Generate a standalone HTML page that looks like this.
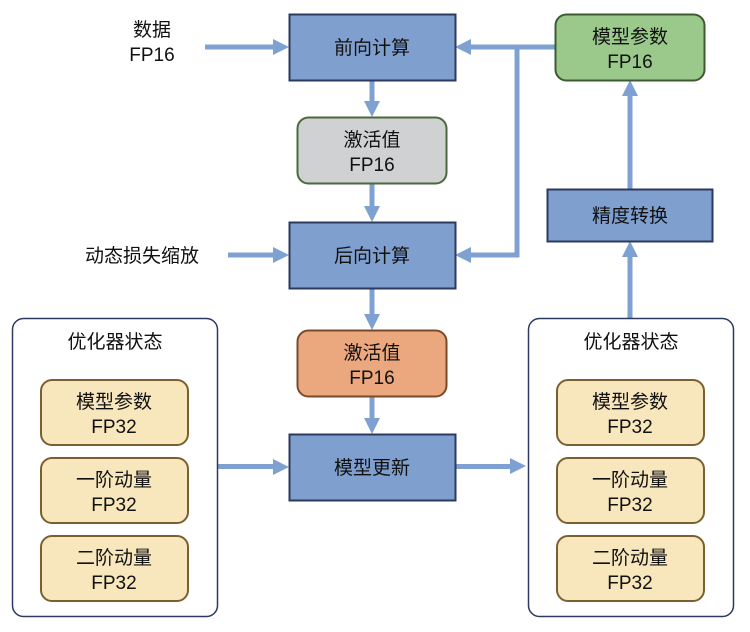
<!DOCTYPE html>
<html><head><meta charset="utf-8"><style>
html,body{margin:0;padding:0;background:#fff;}
svg text{font-family:"Liberation Sans","Noto Sans CJK SC",sans-serif;font-size:19px;fill:#111;text-anchor:middle;}
</style></head><body>
<svg width="750" height="627" viewBox="0 0 750 627" xmlns="http://www.w3.org/2000/svg">
<g fill="#7fa1d2" stroke="none">
<rect x="205" y="44.5" width="70" height="5"/><polygon points="273,39 289,47 273,55"/>
<rect x="369.5" y="80" width="5" height="23"/><polygon points="364,101 372,117 380,101"/>
<rect x="369.5" y="183" width="5" height="25"/><polygon points="364,206 372,222 380,206"/>
<rect x="469" y="44.5" width="86" height="5"/><polygon points="471,39 455,47 471,55"/>
<rect x="514.5" y="44.5" width="5" height="213"/>
<rect x="469" y="252.5" width="50.5" height="5"/><polygon points="471,247 455,255 471,263"/>
<rect x="228" y="252.5" width="47" height="5"/><polygon points="273,247 289,255 273,263"/>
<rect x="369.5" y="288" width="5" height="28"/><polygon points="364,314 372,330 380,314"/>
<rect x="369.5" y="396" width="5" height="24"/><polygon points="364,418 372,434 380,418"/>
<rect x="217" y="464" width="58" height="5"/><polygon points="273,459 289,467 273,475"/>
<rect x="455" y="464" width="57" height="5"/><polygon points="510,458 526,466 510,474"/>
<rect x="627.5" y="255" width="5" height="63"/><polygon points="622,257 630,241 638,257"/>
<rect x="627.5" y="94" width="5" height="95"/><polygon points="622,96 630,80 638,96"/>
</g>
<rect x="289.5" y="14.5" width="166" height="66" fill="#7f9fcf" stroke="#2b3a5e" stroke-width="2"/>
<text x="372" y="54">前向计算</text>
<rect x="297.5" y="117.5" width="149" height="66" rx="11" fill="#d0d1d3" stroke="#4a6a3a" stroke-width="2"/>
<text x="372" y="146">激活值</text><text x="372" y="171">FP16</text>
<rect x="289.5" y="222.5" width="166" height="66" fill="#7f9fcf" stroke="#2b3a5e" stroke-width="2"/>
<text x="372" y="262">后向计算</text>
<rect x="297.5" y="330.5" width="149" height="66" rx="11" fill="#eba77e" stroke="#7a4a2a" stroke-width="2"/>
<text x="372" y="359">激活值</text><text x="372" y="384">FP16</text>
<rect x="289.5" y="434.5" width="166" height="66" fill="#7f9fcf" stroke="#2b3a5e" stroke-width="2"/>
<text x="372" y="474">模型更新</text>
<rect x="555.5" y="14.5" width="149" height="66" rx="11" fill="#9bc98c" stroke="#3d5a30" stroke-width="2"/>
<text x="630" y="43">模型参数</text><text x="630" y="68">FP16</text>
<rect x="547.5" y="189.5" width="165" height="52" fill="#7f9fcf" stroke="#2b3a5e" stroke-width="2"/>
<text x="630" y="222">精度转换</text>
<text x="152" y="36">数据</text><text x="152" y="61">FP16</text>
<text x="142" y="262">动态损失缩放</text>
<rect x="12.5" y="318.5" width="205" height="298" rx="11" fill="#fff" stroke="#2b3a5e" stroke-width="1.5"/>
<text x="115" y="348">优化器状态</text>
<rect x="528.5" y="318.5" width="205" height="298" rx="11" fill="#fff" stroke="#2b3a5e" stroke-width="1.5"/>
<text x="631" y="348">优化器状态</text>
<g fill="#f8e6bd" stroke="#7a6030" stroke-width="2">
<rect x="41" y="380" width="147" height="65" rx="11"/>
<rect x="41" y="458" width="147" height="65" rx="11"/>
<rect x="41" y="536" width="147" height="65" rx="11"/>
<rect x="557" y="380" width="147" height="65" rx="11"/>
<rect x="557" y="458" width="147" height="65" rx="11"/>
<rect x="557" y="536" width="147" height="65" rx="11"/>
</g>
<text x="114" y="408">模型参数</text><text x="114" y="433">FP32</text>
<text x="114" y="486">一阶动量</text><text x="114" y="511">FP32</text>
<text x="114" y="564">二阶动量</text><text x="114" y="589">FP32</text>
<text x="630" y="408">模型参数</text><text x="630" y="433">FP32</text>
<text x="630" y="486">一阶动量</text><text x="630" y="511">FP32</text>
<text x="630" y="564">二阶动量</text><text x="630" y="589">FP32</text>
</svg>
</body></html>
